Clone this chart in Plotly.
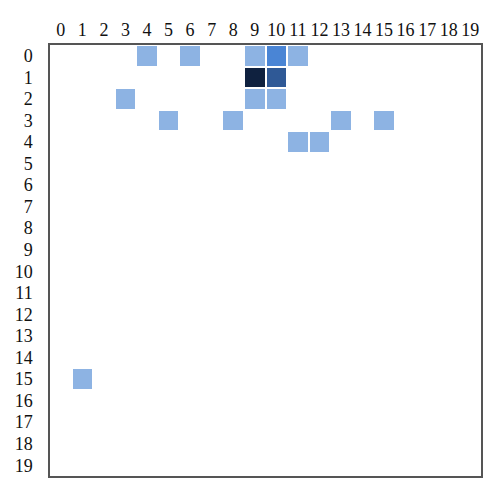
import plotly.graph_objects as go

n = 20
tick_labels = [str(i) for i in range(n)]

# Non-empty cells: row index, column index, intensity level
cell_rows = [0, 0, 0, 0, 0, 1, 1, 2, 2, 2, 3, 3, 3, 3, 4, 4, 15]
cell_cols = [4, 6, 9, 10, 11, 9, 10, 3, 9, 10, 5, 8, 13, 15, 11, 12, 1]
cell_vals = [1, 1, 1, 3, 1, 6, 4, 1, 1, 1, 1, 1, 1, 1, 1, 1, 1]

z = [[0] * n for _ in range(n)]
for r, c, v in zip(cell_rows, cell_cols, cell_vals):
    z[r][c] = v

colorscale = [
    [0.0, "#ffffff"],
    [1 / 6, "#8db3e3"],
    [3 / 6, "#4a85d5"],
    [4 / 6, "#2f5996"],
    [1.0, "#0f213f"],
]

fig = go.Figure(go.Heatmap(
    z=z,
    x=list(range(n)),
    y=list(range(n)),
    colorscale=colorscale,
    zmin=0, zmax=6,
    showscale=False,
    xgap=2, ygap=2,
    hoverinfo="skip",
))

font = dict(family="Liberation Serif, Times New Roman, serif", size=18, color="#111")

fig.update_layout(
    width=500, height=494,
    margin=dict(l=50, r=19, t=45, b=18),
    paper_bgcolor="white",
    plot_bgcolor="white",
    font=font,
    xaxis=dict(
        side="top", range=[-0.5, 19.5], tickmode="array",
        tickvals=list(range(n)), ticktext=tick_labels,
        showgrid=False, zeroline=False, ticks="",
        showline=True, mirror=True, linecolor="#555", linewidth=1.5,
        ticklabelstandoff=0, automargin=False,
    ),
    yaxis=dict(
        range=[19.5, -0.5], tickmode="array",
        tickvals=list(range(n)), ticktext=tick_labels,
        showgrid=False, zeroline=False, ticks="",
        showline=True, mirror=True, linecolor="#555", linewidth=1.5,
        ticklabelstandoff=12, automargin=False,
    ),
)

fig.write_html(
    "out.html",
    config={"displayModeBar": False},
    post_script="document.body.style.margin='0';document.body.style.overflow='hidden';",
)
